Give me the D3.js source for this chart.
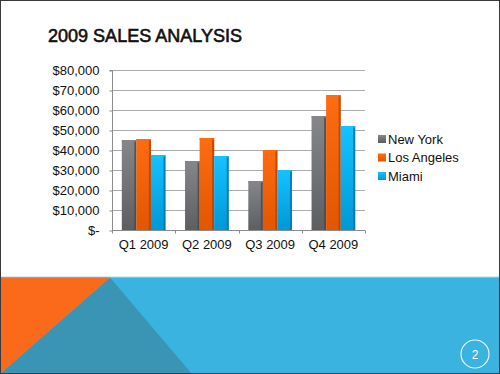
<!DOCTYPE html>
<html>
<head>
<meta charset="utf-8">
<style>
  body { margin: 0; background: #fff; }
  svg { display: block; }
</style>
</head>
<body>
<svg id="chart" xmlns="http://www.w3.org/2000/svg"></svg>
<script src="https://d3js.org/d3.v7.min.js"></script>
<script>
const width = 500;
const height = 374;

const quarters = ["Q1 2009", "Q2 2009", "Q3 2009", "Q4 2009"];
const cities = ["New York", "Los Angeles", "Miami"];
const newYork = [45000, 34500, 24500, 57000];
const losAngeles = [45500, 46000, 40000, 67500];
const miami = [37500, 37000, 30000, 52000];
const yTicks = [0, 10000, 20000, 30000, 40000, 50000, 60000, 70000, 80000];

const seriesValues = [newYork, losAngeles, miami];
const colors = [
  { light: "#85878b", dark: "#5c5e62", edge: "#46484c" },
  { light: "#ff6c10", dark: "#e25600", edge: "#b54000" },
  { light: "#16c2ff", dark: "#0098d6", edge: "#0072a6" }
];

const svg = d3.select("#chart")
  .attr("width", width)
  .attr("height", height)
  .style("font-family", "'Liberation Sans', Arial, sans-serif");

// slide background
svg.append("rect")
  .attr("width", width).attr("height", height)
  .attr("fill", "#fff");

// bottom band
const band = svg.append("g");
band.append("rect")
  .attr("x", 0).attr("y", 277).attr("width", width).attr("height", height - 277)
  .attr("fill", "#3ab3e0");
band.append("line")
  .attr("x1", 0).attr("x2", width).attr("y1", 277).attr("y2", 277)
  .attr("stroke", "#a8dcf0").attr("stroke-width", 1);
band.append("path")
  .attr("d", "M110,277.5 L192,374 L0,374 Z")
  .attr("fill", "#3a95b5");
band.append("path")
  .attr("d", "M0,277.5 L110,277.5 L0,374 Z")
  .attr("fill", "#fa6a1a");
band.append("circle")
  .attr("cx", 475).attr("cy", 354).attr("r", 14)
  .attr("fill", "none").attr("stroke", "#e8f6fc").attr("stroke-width", 1.2);
band.append("text")
  .attr("x", 475).attr("y", 358.5)
  .attr("text-anchor", "middle")
  .attr("fill", "#fff")
  .style("font-size", "12px")
  .text("2");

// title
svg.append("text")
  .attr("x", 48).attr("y", 41.5)
  .attr("fill", "#111")
  .attr("stroke", "#111")
  .attr("stroke-width", 0.6)
  .style("font-size", "18px")
  .attr("textLength", 194)
  .attr("lengthAdjust", "spacingAndGlyphs")
  .text("2009 SALES ANALYSIS");

// chart area
const plot = { left: 112, right: 365, top: 70, bottom: 230 };

const x0 = d3.scaleBand()
  .domain(quarters)
  .range([plot.left, plot.right])
  .paddingInner(0)
  .paddingOuter(0);

const groupWidth = x0.bandwidth() * 0.69;
const x1 = d3.scaleBand()
  .domain(cities)
  .range([0, groupWidth]);

const y = d3.scaleLinear()
  .domain([0, 80000])
  .range([plot.bottom, plot.top]);

// gradients
const defs = svg.append("defs");
colors.forEach((c, i) => {
  const g = defs.append("linearGradient")
    .attr("id", "bar" + i)
    .attr("x1", 0).attr("x2", 0).attr("y1", 0).attr("y2", 1);
  g.append("stop").attr("offset", "0%").attr("stop-color", c.light);
  g.append("stop").attr("offset", "100%").attr("stop-color", c.dark);
});

// gridlines
svg.append("g")
  .selectAll("line")
  .data(yTicks.slice(1))
  .join("line")
    .attr("x1", plot.left).attr("x2", plot.right)
    .attr("y1", d => Math.round(y(d)) + 0.5)
    .attr("y2", d => Math.round(y(d)) + 0.5)
    .attr("stroke", "#ababab");

// y axis
const yAxis = d3.axisLeft(y)
  .tickValues(yTicks)
  .tickSize(3)
  .tickPadding(10)
  .tickFormat(d => d === 0 ? "$-" : "$" + d3.format(",")(d));

const yG = svg.append("g")
  .attr("transform", `translate(${plot.left + 0.5},0.5)`)
  .call(yAxis);
yG.select(".domain").attr("stroke", "#8c8c8c").attr("d", `M-3,${plot.top}H0V${plot.bottom}`);
yG.selectAll(".tick line").attr("stroke", "#8c8c8c");
yG.selectAll(".tick text")
  .attr("fill", "#111")
  .style("font-size", "13px")
  .style("font-family", "'Liberation Sans', Arial, sans-serif");

// bars
const groups = svg.append("g")
  .selectAll("g")
  .data(quarters)
  .join("g")
    .attr("transform", q => `translate(${x0(q) + (x0.bandwidth() - groupWidth) / 2},0)`);

groups.each(function(q, qi) {
  const g = d3.select(this);
  cities.forEach((c, ci) => {
    const v = seriesValues[ci][qi];
    const bx = x1(c);
    const bw = x1.bandwidth();
    g.append("rect")
      .attr("x", bx).attr("y", y(v))
      .attr("width", bw).attr("height", y(0) - y(v))
      .attr("fill", `url(#bar${ci})`);
    // darker right edge
    g.append("rect")
      .attr("x", bx + bw - 2).attr("y", y(v))
      .attr("width", 2).attr("height", y(0) - y(v))
      .attr("fill", colors[ci].edge)
      .attr("opacity", 0.8);
    // top highlight
    g.append("rect")
      .attr("x", bx).attr("y", y(v))
      .attr("width", bw).attr("height", 1.5)
      .attr("fill", colors[ci].light)
      .attr("opacity", 0.9);
  });
});

// x axis
const xAxis = d3.axisBottom(x0).tickSize(0).tickPadding(9);
const xG = svg.append("g")
  .attr("transform", `translate(0,${plot.bottom + 0.5})`)
  .call(xAxis);
xG.select(".domain").attr("stroke", "#8c8c8c").attr("d", `M${plot.left},0H${plot.right}`);
xG.selectAll(".tick text")
  .attr("fill", "#111")
  .style("font-size", "13px")
  .style("font-family", "'Liberation Sans', Arial, sans-serif");
xG.append("g")
  .selectAll("line")
  .data(quarters.concat([null]))
  .join("line")
    .attr("x1", (d, i) => Math.round(plot.left + i * x0.bandwidth()) + 0.5)
    .attr("x2", (d, i) => Math.round(plot.left + i * x0.bandwidth()) + 0.5)
    .attr("y1", 0).attr("y2", 3)
    .attr("stroke", "#8c8c8c");

// legend
const legend = svg.append("g")
  .attr("transform", "translate(378,139)");
const item = legend.selectAll("g")
  .data(cities)
  .join("g")
    .attr("transform", (d, i) => `translate(0,${i * 18.5})`);
item.append("rect")
  .attr("x", 0).attr("y", -4).attr("width", 8).attr("height", 8)
  .attr("fill", (d, i) => `url(#bar${i})`);
item.append("text")
  .attr("x", 10).attr("y", 4.5)
  .attr("fill", "#111")
  .style("font-size", "13px")
  .text(d => d);

// slide border
svg.append("rect")
  .attr("x", 0.5).attr("y", 0.5)
  .attr("width", width - 1).attr("height", height - 1)
  .attr("fill", "none")
  .attr("stroke", "#3a3a3a");
</script>
</body>
</html>
